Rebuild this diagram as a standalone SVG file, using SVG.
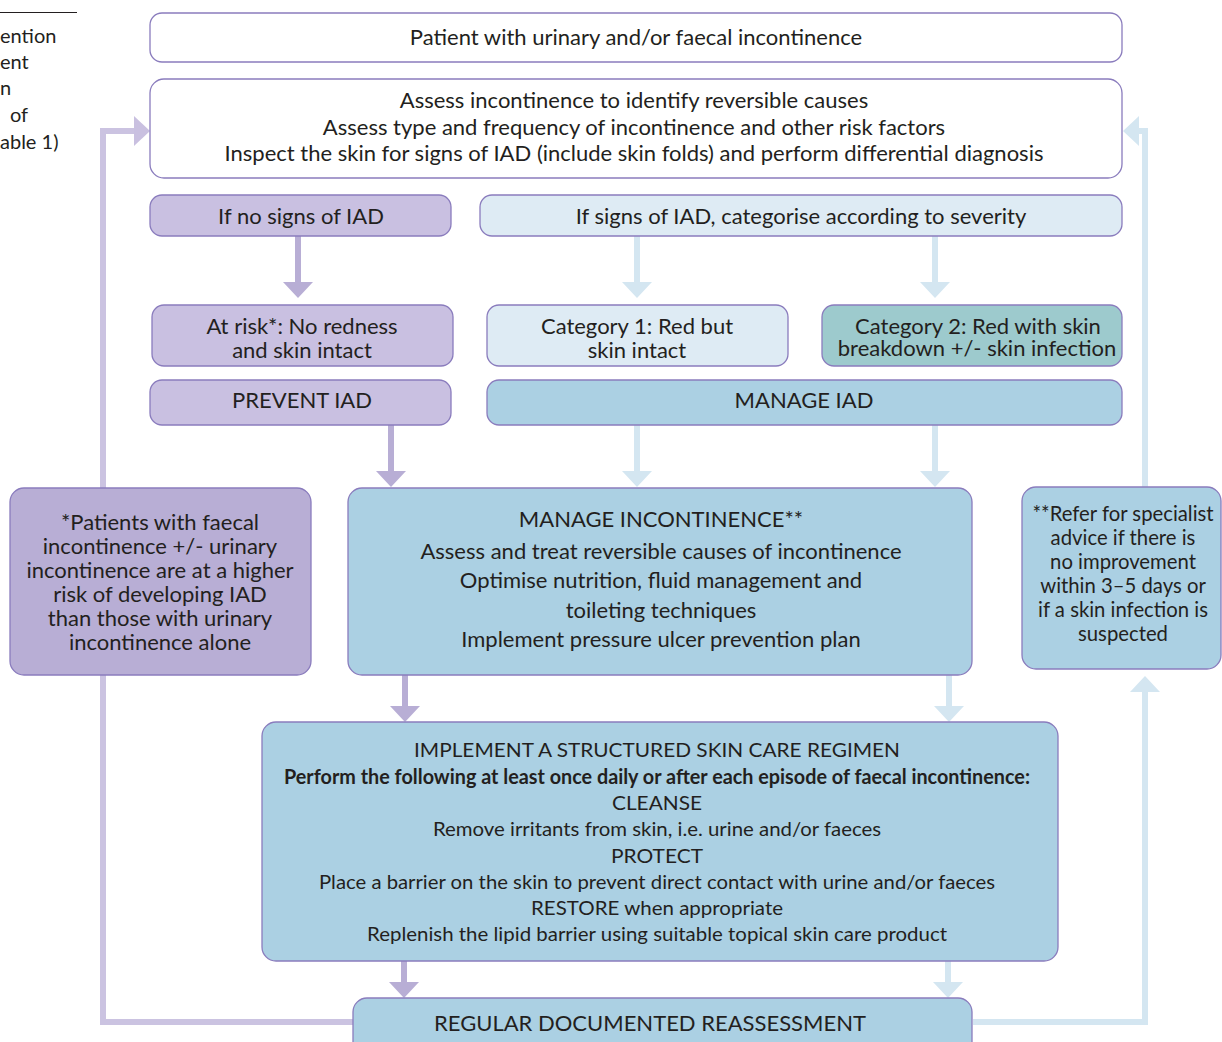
<svg xmlns="http://www.w3.org/2000/svg" width="1222" height="1042" viewBox="0 0 1222 1042">
<style>
text{font-family:Lato,"Open Sans","Noto Sans",sans-serif;font-size:22px;fill:#231f20;text-anchor:middle}
.frag{text-anchor:start;font-size:20px}
.box{stroke:#8a7cbd;stroke-width:1.3}
.w{fill:#ffffff}
.lav{fill:#c9c0e1}
.lav2{fill:#b8aed5}
.lb{fill:#deebf4}
.mb{fill:#abd0e3}
.teal{fill:#9dcacd}
.ap{stroke:#b8aed5;stroke-width:6;fill:none}
.ab{stroke:#d4e6f1;stroke-width:6;fill:none}
.al{stroke:#cbc3e1;stroke-width:6;fill:none}
.cond{font-family:"Liberation Sans Narrow",Lato,sans-serif;font-size:20px}
.b{font-weight:bold}
.sm{font-size:20.3px}
</style>
<defs>
<marker id="mp" markerUnits="userSpaceOnUse" viewBox="0 0 16 30" markerWidth="16" markerHeight="30" refX="0" refY="15" orient="auto"><path d="M0,0 L16,15 L0,30 Z" fill="#b8aed5"/></marker>
<marker id="mb" markerUnits="userSpaceOnUse" viewBox="0 0 16 30" markerWidth="16" markerHeight="30" refX="0" refY="15" orient="auto"><path d="M0,0 L16,15 L0,30 Z" fill="#d4e6f1"/></marker>
<marker id="ml" markerUnits="userSpaceOnUse" viewBox="0 0 16 30" markerWidth="16" markerHeight="30" refX="0" refY="15" orient="auto"><path d="M0,0 L16,15 L0,30 Z" fill="#c9c0e0"/></marker>
</defs>

<g id="margin-fragment">
<line x1="0" y1="12.5" x2="77" y2="12.5" stroke="#231f20" stroke-width="1"/>
<text class="frag" x="0" y="43">ention</text>
<text class="frag" x="0" y="69">ent</text>
<text class="frag" x="0" y="95">n</text>
<text class="frag" x="10" y="122">of</text>
<text class="frag" x="0" y="149">able 1)</text>
</g>

<g id="connectors">
<path class="al" d="M353,1022 H103 V131 H134" marker-end="url(#ml)"/>
<path class="ab" d="M973,1022 H1145 V692" marker-end="url(#mb)"/>
<path class="ab" d="M1145,487 V131 H1139" marker-end="url(#mb)"/>
<path class="ap" d="M298,236 V282" marker-end="url(#mp)"/>
<path class="ab" d="M637,236 V282" marker-end="url(#mb)"/>
<path class="ab" d="M935,236 V282" marker-end="url(#mb)"/>
<path class="ap" d="M391,425 V471" marker-end="url(#mp)"/>
<path class="ab" d="M637,425 V471" marker-end="url(#mb)"/>
<path class="ab" d="M935,425 V471" marker-end="url(#mb)"/>
<path class="ap" d="M405,675 V706" marker-end="url(#mp)"/>
<path class="ab" d="M949,675 V706" marker-end="url(#mb)"/>
<path class="ap" d="M404,961 V982" marker-end="url(#mp)"/>
<path class="ab" d="M948,961 V982" marker-end="url(#mb)"/>
</g>

<g id="patient">
<rect class="box w" x="150" y="13" width="972" height="49" rx="12"/>
<text x="636" y="45">Patient with urinary and/or faecal incontinence</text>
</g>

<g id="assess">
<rect class="box w" x="150" y="79" width="972" height="99" rx="14"/>
<text x="634" y="108">Assess incontinence to identify reversible causes</text>
<text x="634" y="135">Assess type and frequency of incontinence and other risk factors</text>
<text x="634" y="161">Inspect the skin for signs of IAD (include skin folds) and perform differential diagnosis</text>
</g>

<g id="no-signs">
<rect class="box lav" x="150" y="195" width="301" height="41" rx="12"/>
<text x="301" y="224">If no signs of IAD</text>
</g>

<g id="signs">
<rect class="box lb" x="480" y="195" width="642" height="41" rx="12"/>
<text x="801" y="224">If signs of IAD, categorise according to severity</text>
</g>

<g id="at-risk">
<rect class="box lav" x="152" y="305" width="301" height="61" rx="12"/>
<text x="302" y="334">At risk*: No redness</text>
<text x="302" y="358">and skin intact</text>
</g>

<g id="category1">
<rect class="box lb" x="487" y="305" width="301" height="61" rx="12"/>
<text x="637" y="334">Category 1: Red but</text>
<text x="637" y="358">skin intact</text>
</g>

<g id="category2">
<rect class="box teal" x="822" y="305" width="300" height="61" rx="12"/>
<text x="978" y="334">Category 2: Red with skin</text>
<text x="977" y="356">breakdown +/- skin infection</text>
</g>

<g id="prevent">
<rect class="box lav" x="150" y="380" width="301" height="45" rx="12"/>
<text x="302" y="408">PREVENT IAD</text>
</g>

<g id="manage-iad">
<rect class="box mb" x="487" y="380" width="635" height="45" rx="12"/>
<text x="804" y="408">MANAGE IAD</text>
</g>

<g id="note-left">
<rect class="box lav2" x="10" y="488" width="301" height="187" rx="14"/>
<text x="160" y="530">*Patients with faecal</text>
<text x="160" y="554">incontinence +/- urinary</text>
<text x="160" y="578">incontinence are at a higher</text>
<text x="160" y="602">risk of developing IAD</text>
<text x="160" y="626">than those with urinary</text>
<text x="160" y="650">incontinence alone</text>
</g>

<g id="manage-incontinence">
<rect class="box mb" x="348" y="488" width="624" height="187" rx="14"/>
<text x="661" y="527">MANAGE INCONTINENCE**</text>
<text x="661" y="559">Assess and treat reversible causes of incontinence</text>
<text x="661" y="588">Optimise nutrition, fluid management and</text>
<text x="661" y="618">toileting techniques</text>
<text x="661" y="647">Implement pressure ulcer prevention plan</text>
</g>

<g id="note-right">
<rect class="box mb" x="1022" y="487" width="199" height="182" rx="14"/>
<text class="sm" x="1123" y="521">**Refer for specialist</text>
<text class="sm" x="1123" y="545">advice if there is</text>
<text class="sm" x="1123" y="569">no improvement</text>
<text class="sm" x="1123" y="593">within 3–5 days or</text>
<text class="sm" x="1123" y="617">if a skin infection is</text>
<text class="sm" x="1123" y="641">suspected</text>
</g>

<g id="skin-care">
<rect class="box mb" x="262" y="722" width="796" height="239" rx="14"/>
<text class="cond" x="657" y="757" textLength="486" lengthAdjust="spacingAndGlyphs">IMPLEMENT A STRUCTURED SKIN CARE REGIMEN</text>
<text class="cond b" x="657" y="784" textLength="746" lengthAdjust="spacingAndGlyphs">Perform the following at least once daily or after each episode of faecal incontinence:</text>
<text class="cond" x="657" y="810" textLength="90" lengthAdjust="spacingAndGlyphs">CLEANSE</text>
<text class="cond" x="657" y="836" textLength="448" lengthAdjust="spacingAndGlyphs">Remove irritants from skin, i.e. urine and/or faeces</text>
<text class="cond" x="657" y="863" textLength="92" lengthAdjust="spacingAndGlyphs">PROTECT</text>
<text class="cond" x="657" y="889" textLength="676" lengthAdjust="spacingAndGlyphs">Place a barrier on the skin to prevent direct contact with urine and/or faeces</text>
<text class="cond" x="657" y="915" textLength="252" lengthAdjust="spacingAndGlyphs">RESTORE when appropriate</text>
<text class="cond" x="657" y="941" textLength="580" lengthAdjust="spacingAndGlyphs">Replenish the lipid barrier using suitable topical skin care product</text>
</g>

<g id="reassessment">
<rect class="box mb" x="353" y="998" width="619" height="70" rx="14"/>
<text x="650" y="1031">REGULAR DOCUMENTED REASSESSMENT</text>
</g>
</svg>
